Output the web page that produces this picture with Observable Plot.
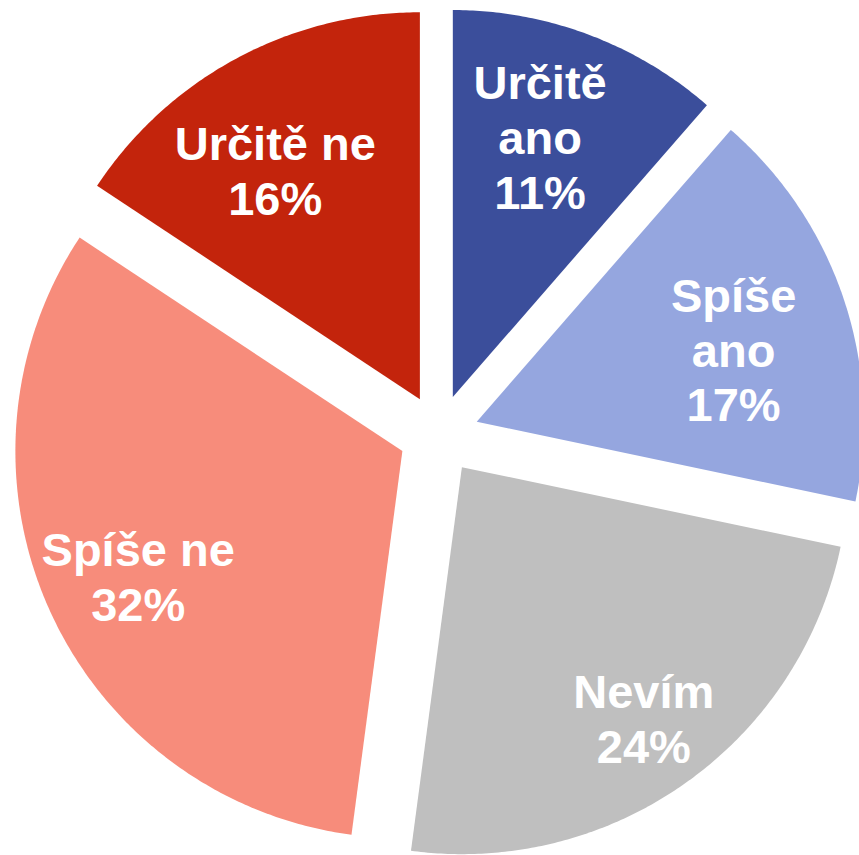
<!DOCTYPE html>
<html>
<head>
<meta charset="utf-8">
<script src="https://cdn.jsdelivr.net/npm/d3@7"></script>
<script src="https://cdn.jsdelivr.net/npm/@observablehq/plot@0.6"></script>
<style>
html, body { margin: 0; padding: 0; background: #ffffff; }
#chart svg { display: block; }
</style>
</head>
<body>
<div id="chart"></div>
<script>
// ---- data ----
const categories = ["Určitě ano", "Spíše ano", "Nevím", "Spíše ne", "Určitě ne"];
const values = [11.4, 16.9, 23.8, 32.2, 15.7];
const percentLabels = ["11%", "17%", "24%", "32%", "16%"];
const colors = ["#3B4E9B", "#95A6DF", "#BFBFBF", "#F78C7B", "#C3240C"];

// ---- layout ----
const W = 859, H = 855;
const R = 387, CX = 438.3, CY = 434;      // pie radius and centre in pixels
const EXPLODE = 40 / R;                    // explosion offset, in radius units
const labelRadius = [0.71, 0.69, 0.80, 0.755, 0.70];
const labelAngleShift = [-2, 2.7, -0.7, -0.8, -4];
const labelBreak = [true, true, false, false, false];

const total = d3.sum(values);
const rad = (deg) => deg * Math.PI / 180;

const slicePoints = [];
const labels = [];
let start = 0;
values.forEach((v, i) => {
  const span = v / total * 360;
  const end = start + span;
  const mid = start + span / 2;
  const ox = EXPLODE * Math.sin(rad(mid));
  const oy = EXPLODE * Math.cos(rad(mid));
  const cat = categories[i];
  slicePoints.push({category: cat, x: ox, y: oy});
  const steps = Math.max(2, Math.ceil(span * 2));
  for (let k = 0; k <= steps; k++) {
    const a = start + span * k / steps;
    slicePoints.push({category: cat, x: ox + Math.sin(rad(a)), y: oy + Math.cos(rad(a))});
  }
  slicePoints.push({category: cat, x: ox, y: oy});
  const la = mid + labelAngleShift[i];
  const name = labelBreak[i] ? cat.replace(" ", "\n") : cat;
  labels.push({
    category: cat,
    x: ox + labelRadius[i] * Math.sin(rad(la)),
    y: oy + labelRadius[i] * Math.cos(rad(la)),
    text: name + "\n" + percentLabels[i]
  });
  start = end;
});

const chart = Plot.plot({
  width: W,
  height: H,
  margin: 0,
  style: {background: "#ffffff"},
  x: {domain: [-CX / R, (W - CX) / R], axis: null},
  y: {domain: [-(H - CY) / R, CY / R], axis: null},
  color: {domain: categories, range: colors},
  marks: [
    Plot.line(slicePoints, {x: "x", y: "y", z: "category", fill: "category", stroke: "none", curve: "linear"}),
    Plot.text(labels, {
      x: "x", y: "y", text: "text",
      fill: "#ffffff",
      fontSize: 47,
      fontWeight: "bold",
      fontFamily: "'Liberation Sans', Arial, sans-serif",
      lineHeight: 1.17,
      lineAnchor: "middle",
      textAnchor: "middle"
    })
  ]
});
document.getElementById("chart").appendChild(chart);
</script>
</body>
</html>
